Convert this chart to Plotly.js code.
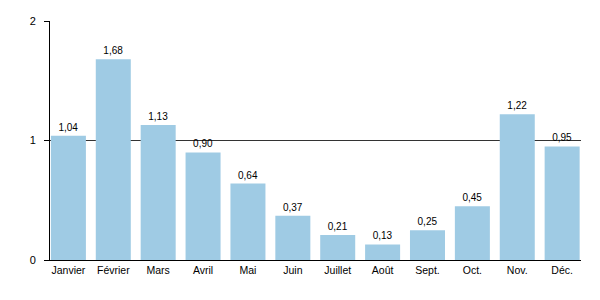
<!DOCTYPE html>
<html><head><meta charset="utf-8">
<script src="https://cdn.plot.ly/plotly-3.0.1.min.js"></script>
<style>body{margin:0}#c{width:600px;height:300px}</style>
</head><body><div id="c"></div>
<script>
const months = ["Janvier","Février","Mars","Avril","Mai","Juin","Juillet","Août","Sept.","Oct.","Nov.","Déc."];
const values = [1.04,1.68,1.13,0.90,0.64,0.37,0.21,0.13,0.25,0.45,1.22,0.95];
const yTicks = [0,1,2];

Plotly.newPlot('c',[{
  type:'bar', x:months, y:values,
  marker:{color:'#9fcbe4'},
  texttemplate:'%{y:.2f}', textposition:'outside', cliponaxis:false,
  textfont:{family:'Liberation Sans, Arial, sans-serif', size:10, color:'#000'},
  hoverinfo:'none'
}],{
  width:600, height:300,
  margin:{l:50,r:19,t:21,b:40},
  separators:', ',
  bargap:0.22,
  showlegend:false,
  font:{family:'Liberation Sans, Arial, sans-serif', size:10.5, color:'#000'},
  plot_bgcolor:'#fff', paper_bgcolor:'#fff',
  xaxis:{type:'category', range:[-0.41,11.42], showline:true, linecolor:'#000', linewidth:1,
         ticks:'', showgrid:false, zeroline:false, fixedrange:true,
         tickfont:{size:10.5}},
  yaxis:{range:[0,2], tickvals:yTicks, ticktext:yTicks.map(String), showline:true, linecolor:'#000', linewidth:1,
         ticks:'outside', ticklen:5, tickcolor:'#000', ticklabelstandoff:6,
         tickfont:{size:11},
         showgrid:true, gridcolor:'#333', gridwidth:1, zeroline:false, fixedrange:true}
},{displayModeBar:false, staticPlot:true});
</script></body></html>
